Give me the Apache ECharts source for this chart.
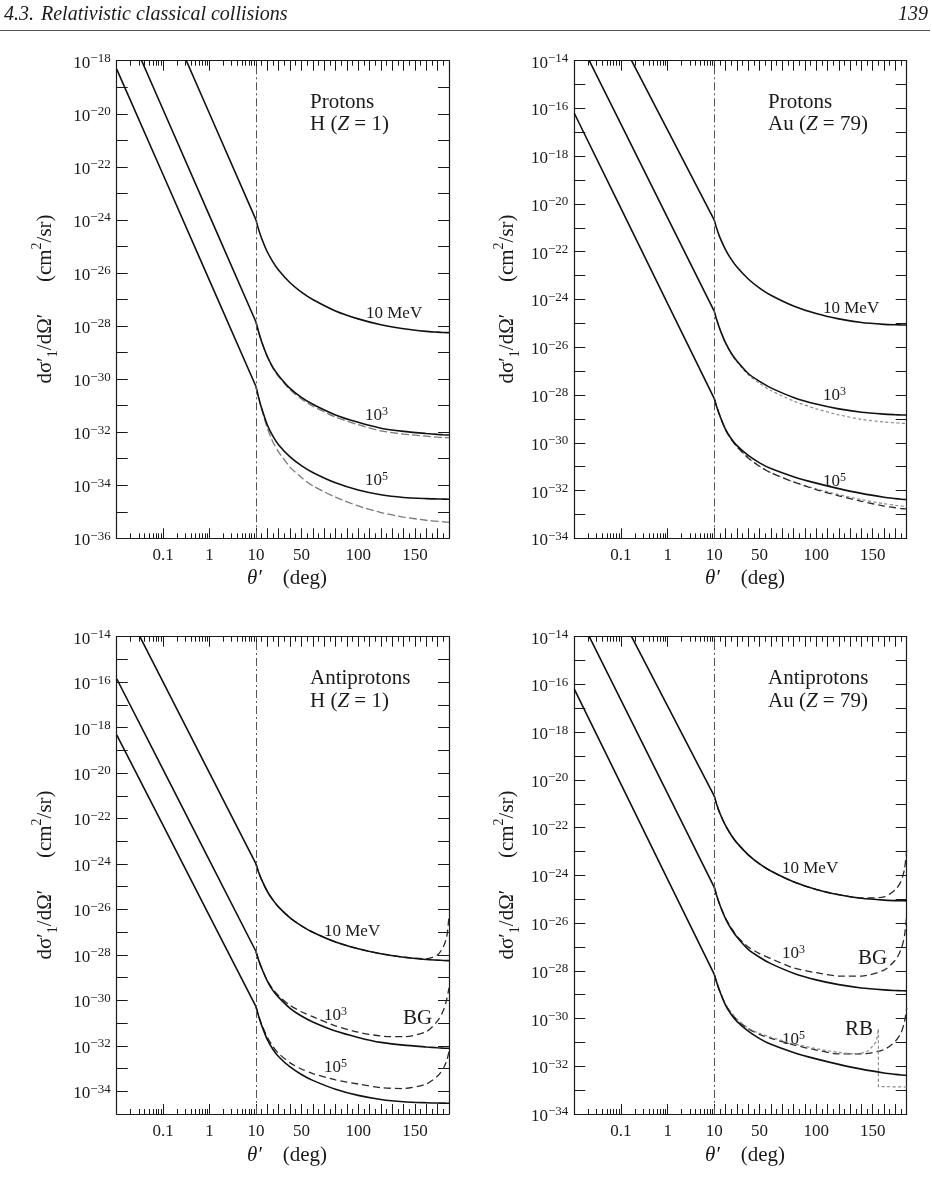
<!DOCTYPE html>
<html>
<head>
<meta charset="utf-8">
<script src="https://cdn.jsdelivr.net/npm/echarts@6/dist/echarts.min.js"></script>
<style>
  html, body { margin: 0; background: #fff; }
  #chart { width: 932px; height: 1204px; }
</style>
</head>
<body>
<div id="chart"></div>
<script>
const FF = '"Liberation Serif", "DejaVu Serif", serif';
const INK = '#1a1a1a';

// θ′ (deg) where the curves were read
const thetaLog = [0.01, 0.1, 1, 10];
const thetaLin = [10, 12, 15, 20, 25, 30, 40, 50, 60, 80, 100, 120, 140, 160, 170, 175, 178, 180];
const thetaRB = [10, 12, 15, 20, 25, 30, 40, 50, 60, 80, 100, 120, 135, 145, 150, 153, 155];
const thetaRBstep = [155, 155, 180];

// log10 of dσ′1/dΩ′ in cm²/sr
// H target, θ′ < 10°
const hLog10MeV = [-12.0, -16.0, -20.0, -24.0];
const hLog1e3 = [-15.85, -19.85, -23.85, -27.85];
const hLog1e5 = [-18.32, -22.30, -26.29, -30.28];
// Au target, θ′ < 10°
const auLog10MeV = [-9.37, -13.14, -16.91, -20.68];
const auLog1e3 = [-12.74, -16.66, -20.58, -24.50];
const auLog1e5 = [-16.20, -20.18, -24.17, -28.15];

// H target, θ′ >= 10°
const h10MeV = [-24.00, -24.32, -24.70, -25.21, -25.59, -25.90, -26.37, -26.72, -27.00, -27.43, -27.73, -27.95, -28.10, -28.20, -28.23, -28.245, -28.25, -28.25];
const h1e3 = [-27.85, -28.18, -28.59, -29.15, -29.57, -29.87, -30.35, -30.69, -30.95, -31.35, -31.63, -31.85, -31.97, -32.05, -32.085, -32.10, -32.105, -32.107];
const h1e5 = [-30.28, -30.64, -31.10, -31.73, -32.16, -32.48, -32.93, -33.26, -33.52, -33.91, -34.18, -34.36, -34.46, -34.505, -34.517, -34.522, -34.525, -34.527];
// Au target, θ′ >= 10°
const au10MeV = [-20.68, -21.01, -21.41, -21.92, -22.32, -22.64, -23.14, -23.52, -23.82, -24.27, -24.59, -24.81, -24.96, -25.04, -25.06, -25.065, -25.067, -25.068];
const au1e3 = [-24.50, -24.83, -25.25, -25.82, -26.25, -26.58, -27.10, -27.43, -27.70, -28.10, -28.38, -28.58, -28.72, -28.80, -28.825, -28.834, -28.838, -28.84];
const au1e5 = [-28.15, -28.47, -28.88, -29.45, -29.83, -30.12, -30.53, -30.84, -31.08, -31.42, -31.69, -31.92, -32.12, -32.28, -32.34, -32.365, -32.375, -32.38];

// protons on H, dashed
const p1Dash1e3 = [-27.85, -28.18, -28.60, -29.17, -29.60, -29.91, -30.40, -30.75, -31.02, -31.43, -31.72, -31.95, -32.07, -32.15, -32.185, -32.20, -32.205, -32.207];
const p1Dash1e5 = [-30.28, -30.66, -31.14, -31.85, -32.38, -32.75, -33.32, -33.71, -34.02, -34.45, -34.78, -35.03, -35.20, -35.32, -35.36, -35.38, -35.39, -35.395];
// protons on Au
const p2Dash1e3 = [-24.50, -24.83, -25.25, -25.83, -26.27, -26.61, -27.15, -27.51, -27.81, -28.25, -28.58, -28.83, -29.02, -29.13, -29.165, -29.18, -29.19, -29.19];
const p2Dot1e5 = [-28.15, -28.47, -28.88, -29.46, -29.86, -30.17, -30.63, -30.98, -31.25, -31.64, -31.93, -32.17, -32.38, -32.55, -32.615, -32.645, -32.655, -32.66];
const p2Dash1e5 = [-28.15, -28.47, -28.88, -29.46, -29.86, -30.17, -30.64, -30.99, -31.26, -31.64, -31.96, -32.22, -32.45, -32.65, -32.72, -32.755, -32.765, -32.77];
// antiprotons on H (BG)
const p3Dash10MeV = [-24.00, -24.32, -24.70, -25.21, -25.59, -25.90, -26.37, -26.72, -27.00, -27.43, -27.73, -27.95, -28.10, -28.17, -28.00, -27.64, -27.20, -26.30];
const p3Dash1e3 = [-27.85, -28.18, -28.58, -29.14, -29.52, -29.80, -30.22, -30.50, -30.72, -31.12, -31.40, -31.57, -31.60, -31.38, -30.90, -30.45, -29.95, -29.45];
const p3Dash1e5 = [-30.28, -30.63, -31.06, -31.62, -32.04, -32.34, -32.75, -33.02, -33.22, -33.50, -33.68, -33.84, -33.88, -33.68, -33.33, -33.00, -32.65, -32.26];
// antiprotons on Au (BG, RB)
const p4Dash10MeV = [-20.68, -21.01, -21.41, -21.92, -22.32, -22.64, -23.14, -23.52, -23.82, -24.27, -24.59, -24.81, -24.95, -24.90, -24.60, -24.25, -23.75, -22.95];
const p4Dash1e3 = [-24.50, -24.83, -25.24, -25.80, -26.20, -26.55, -27.00, -27.28, -27.49, -27.88, -28.08, -28.22, -28.22, -27.97, -27.55, -27.10, -26.55, -25.70];
const p4Dash1e5 = [-28.15, -28.47, -28.87, -29.42, -29.78, -30.05, -30.43, -30.66, -30.83, -31.10, -31.32, -31.48, -31.48, -31.30, -30.95, -30.60, -30.15, -29.55];
const p4RB = [-28.15, -28.46, -28.86, -29.40, -29.75, -30.02, -30.40, -30.62, -30.78, -31.05, -31.26, -31.42, -31.48, -31.38, -31.15, -30.95, -30.45];
const p4RBstep = [-30.45, -32.85, -32.87];

const SOLID = { color: '#111', width: 1.6, type: 'solid' };
const DASH = { color: '#2a2a2a', width: 1.3, type: [7, 4] };
const DOT = { color: '#8a8a8a', width: 1.2, type: [3, 2.5] };
const GRAYDASH = { color: '#7a7a7a', width: 1.3, type: [8, 3] };

const panels = [
  { left: 116.7, split: 256, right: 449, top: 60.7, bottom: 538.3, yMin: -36, yMax: -18,
    logCurves: [hLog10MeV, hLog1e3, hLog1e5],
    linCurves: [[p1Dash1e3, GRAYDASH], [p1Dash1e5, GRAYDASH], [h10MeV, SOLID], [h1e3, SOLID], [h1e5, SOLID]] },
  { left: 574.3, split: 714.3, right: 906.7, top: 60.7, bottom: 538.3, yMin: -34, yMax: -14,
    logCurves: [auLog10MeV, auLog1e3, auLog1e5],
    linCurves: [[p2Dash1e3, DOT], [p2Dot1e5, DOT], [p2Dash1e5, DASH], [au10MeV, SOLID], [au1e3, SOLID], [au1e5, SOLID]] },
  { left: 116.7, split: 256, right: 449, top: 636.7, bottom: 1114, yMin: -35, yMax: -14,
    logCurves: [hLog10MeV, hLog1e3, hLog1e5],
    linCurves: [[p3Dash10MeV, DASH], [p3Dash1e3, DASH], [p3Dash1e5, DASH], [h10MeV, SOLID], [h1e3, SOLID], [h1e5, SOLID]] },
  { left: 574.3, split: 714.3, right: 906.7, top: 636.7, bottom: 1114, yMin: -34, yMax: -14,
    logCurves: [auLog10MeV, auLog1e3, auLog1e5],
    linCurves: [[p4Dash10MeV, DASH], [p4Dash1e3, DASH], [p4Dash1e5, DASH], [p4RB, DOT, thetaRB], [p4RBstep, DOT, thetaRBstep, false],
                [au10MeV, SOLID], [au1e3, SOLID], [au1e5, SOLID]] }
];

const axisLine = { show: true, onZero: false, lineStyle: { color: INK, width: 1.2 } };
const tickStyle = { color: INK, width: 1 };
const labelFont = { fontSize: 17, fontFamily: FF, color: INK };

function fmtLog(v) {
  const e = Math.round(Math.log10(v));
  return e === -1 ? '0.1' : e === 0 ? '1' : e === 1 ? '10' : '';
}

function logX(gridIndex, position, labels) {
  return {
    type: 'log', logBase: 10, gridIndex, position, min: 0.01, max: 10,
    axisLine, axisTick: { show: true, inside: true, length: 10, lineStyle: tickStyle },
    minorTick: { show: true, splitNumber: 9, length: 5, lineStyle: tickStyle },
    splitLine: { show: false }, minorSplitLine: { show: false },
    axisLabel: Object.assign({ show: labels, interval: 0, margin: 9, showMinLabel: false, showMaxLabel: true, formatter: fmtLog }, labelFont)
  };
}

function linX(gridIndex, position, labels) {
  return {
    type: 'value', gridIndex, position, min: 10, max: 180, interval: 10,
    axisLine, axisTick: { show: true, inside: true, length: 10, lineStyle: tickStyle },
    minorTick: { show: true, splitNumber: 2, length: 5, lineStyle: tickStyle },
    splitLine: { show: false },
    axisLabel: Object.assign({ show: labels, interval: 0, margin: 9,
      formatter: v => (v === 50 || v === 100 || v === 150 ? String(v) : '') }, labelFont)
  };
}

function yAx(gridIndex, position, labels, p) {
  return {
    type: 'value', gridIndex, position, min: p.yMin, max: p.yMax, interval: 1,
    axisLine, axisTick: { show: true, inside: true, length: 11, lineStyle: tickStyle },
    splitLine: { show: false },
    axisLabel: {
      show: labels, interval: 0, margin: 6, showMinLabel: true, showMaxLabel: true,
      padding: [5, 0, 0, 0],
      formatter: v => (v % 2 === 0 ? '{b|10}{s|\u2212' + (-v) + '}' : ''),
      rich: {
        b: { fontSize: 17, fontFamily: FF, color: INK, lineHeight: 22 },
        s: { fontSize: 13, fontFamily: FF, color: INK, lineHeight: 12, verticalAlign: 'top' }
      }
    }
  };
}

function curve(xi, yi, xs, ys, style, smooth) {
  return {
    type: 'line', xAxisIndex: xi, yAxisIndex: yi,
    data: xs.map((x, i) => [x, ys[i]]),
    symbol: 'none', showSymbol: false, silent: true,
    smooth: smooth === undefined ? 0.25 : smooth,
    lineStyle: style
  };
}

const grid = [], xAxis = [], yAxis = [], series = [];
panels.forEach((p, k) => {
  const gL = 2 * k, gR = 2 * k + 1;
  const h = p.bottom - p.top;
  grid.push({ left: p.left, top: p.top, width: p.split - p.left, height: h, show: false });
  grid.push({ left: p.split, top: p.top, width: p.right - p.split, height: h, show: false });
  xAxis.push(logX(gL, 'bottom', true), logX(gL, 'top', false), linX(gR, 'bottom', true), linX(gR, 'top', false));
  yAxis.push(yAx(gL, 'left', true, p), yAx(gR, 'right', false, p));
  p.logCurves.forEach(c => series.push(curve(4 * k, gL, thetaLog, c, SOLID, false)));
  p.linCurves.forEach((c, i) => {
    const s = curve(4 * k + 2, gR, c[2] || thetaLin, c[0], c[1], c[3]);
    if (i === 0) {
      s.markLine = {
        silent: true, symbol: ['none', 'none'], label: { show: false },
        lineStyle: { color: '#555', width: 1, type: [8, 3, 2, 3] },
        data: [{ xAxis: 10 }]
      };
    }
    series.push(s);
  });
});

// text
const RICH = {
  t: { fontSize: 17, fontFamily: FF, fill: INK, lineHeight: 20 },
  s: { fontSize: 12, fontFamily: FF, fill: INK, lineHeight: 11, verticalAlign: 'top' }
};
function note(x, y, text, size, extra) {
  return {
    type: 'text', x, y, silent: true,
    style: Object.assign({
      text, fill: INK, fontSize: size || 17, fontFamily: FF,
      textAlign: 'left', textVerticalAlign: 'middle'
    }, extra || {})
  };
}
function pow10(x, y, e) {
  return note(x, y, '{t|10}{s|' + e + '}', 17, { rich: RICH });
}
const BIG = {
  t: { fontSize: 21, fontFamily: FF, fill: INK, lineHeight: 26 },
  i: { fontSize: 21, fontFamily: FF, fontStyle: 'italic', fill: INK, lineHeight: 26 }
};
function target(x, y, name, z) {
  return note(x, y, '{t|' + name + ' (}{i|Z}{t| = ' + z + ')}', 21, { rich: BIG });
}
function yTitle(cx, cy) {
  return {
    type: 'text', x: cx, y: cy, rotation: Math.PI / 2, silent: true,
    style: {
      text: '{t|d\u03c3\u2032}{sub|1}{t|/d\u03a9\u2032\u2003\u2002(cm}{sup|2}{t|/sr)}',
      textAlign: 'center', textVerticalAlign: 'middle',
      rich: {
        t: { fontSize: 21, fontFamily: FF, fill: INK, lineHeight: 30 },
        sub: { fontSize: 14, fontFamily: FF, fill: INK, lineHeight: 14, verticalAlign: 'bottom' },
        sup: { fontSize: 14, fontFamily: FF, fill: INK, lineHeight: 14, verticalAlign: 'top' }
      }
    }
  };
}
function xTitle(cx, cy) {
  return {
    type: 'text', x: cx, y: cy, silent: true,
    style: {
      text: '{i|\u03b8\u2032}{t|\u2003(deg)}',
      textAlign: 'center', textVerticalAlign: 'middle', rich: BIG
    }
  };
}

const graphic = [
  note(4, 15, '4.3.', 20, { fontStyle: 'italic' }),
  note(41, 15, 'Relativistic classical collisions', 20, { fontStyle: 'italic' }),
  note(928, 15, '139', 20, { fontStyle: 'italic', textAlign: 'right' }),
  { type: 'line', silent: true, shape: { x1: 0, y1: 30.5, x2: 930, y2: 30.5 }, style: { stroke: '#555', lineWidth: 1 } },

  note(310, 102, 'Protons', 21), target(310, 124, 'H', 1),
  note(366, 314, '10 MeV'), pow10(365, 416, 3), pow10(365, 481, 5),
  yTitle(45, 299), xTitle(287, 578),

  note(768, 102, 'Protons', 21), target(768, 124, 'Au', 79),
  note(823, 309, '10 MeV'), pow10(823, 396, 3), pow10(823, 482, 5),
  yTitle(507, 299), xTitle(745, 578),

  note(310, 678, 'Antiprotons', 21), target(310, 701, 'H', 1),
  note(324, 932, '10 MeV'), pow10(324, 1016, 3), pow10(324, 1068, 5), note(403, 1018, 'BG', 21),
  yTitle(45, 875), xTitle(287, 1155),

  note(768, 678, 'Antiprotons', 21), target(768, 701, 'Au', 79),
  note(782, 869, '10 MeV'), pow10(782, 954, 3), pow10(782, 1040, 5),
  note(858, 958, 'BG', 21), note(845, 1029, 'RB', 21),
  yTitle(507, 875), xTitle(745, 1155)
];

const chart = echarts.init(document.getElementById('chart'), null, { renderer: 'canvas' });
chart.setOption({
  animation: false,
  backgroundColor: '#fff',
  textStyle: { fontFamily: FF },
  grid, xAxis, yAxis, series, graphic
});
</script>
</body>
</html>
